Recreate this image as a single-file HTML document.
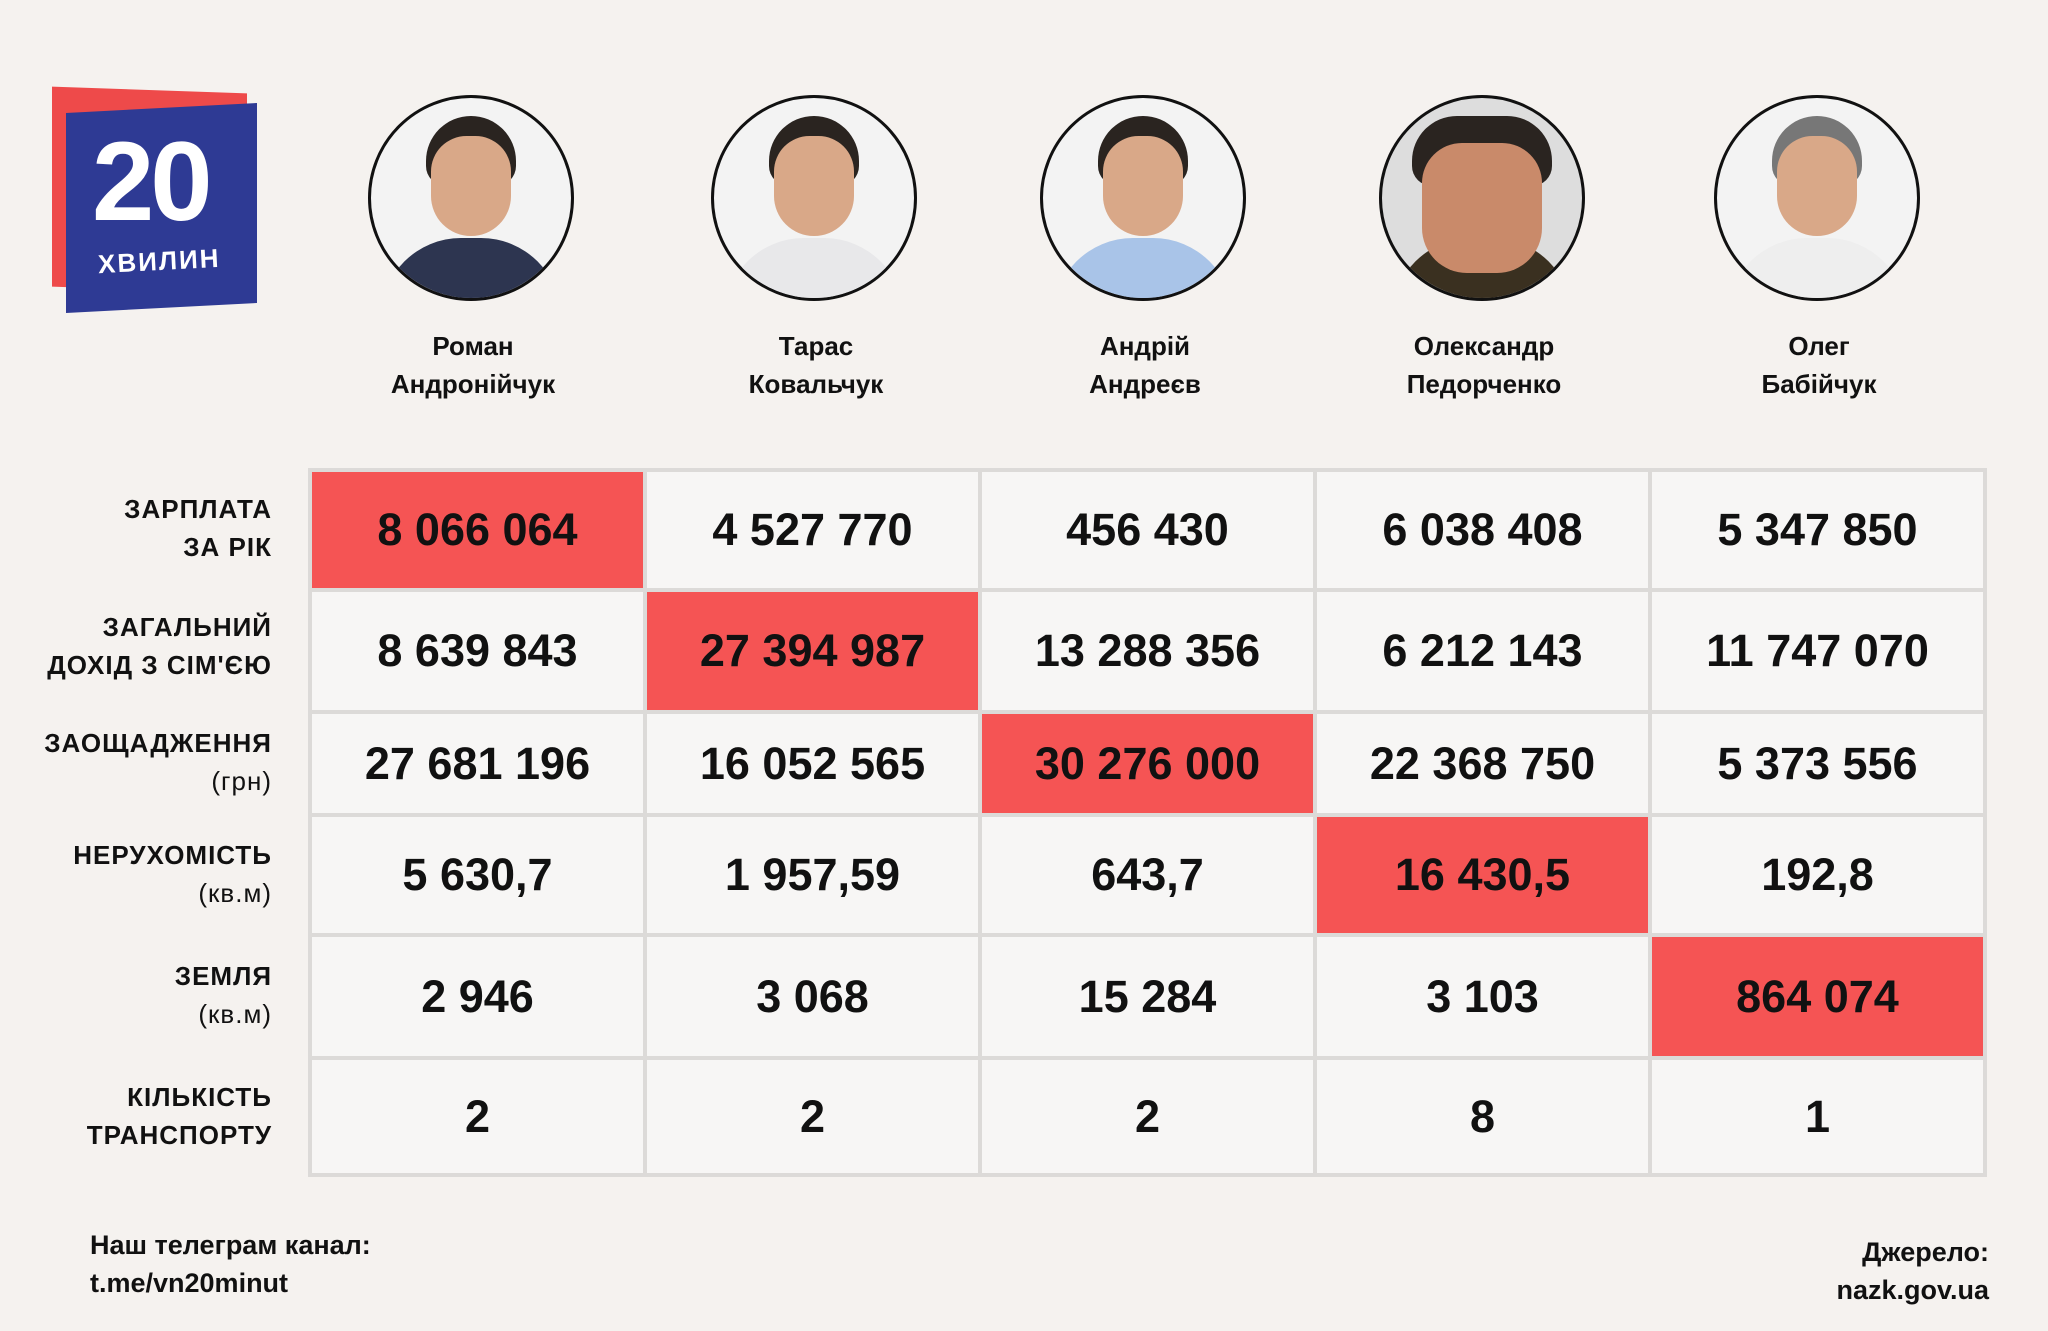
<!DOCTYPE html>
<html><head><meta charset="utf-8"><style>
body{margin:0;width:2048px;height:1331px;background:#f5f2ef;font-family:"Liberation Sans",sans-serif;position:relative;overflow:hidden;color:#111}
.a{position:absolute}
.c{position:absolute;width:206px;height:206px;border:3px solid #111;border-radius:50%;overflow:hidden;background:#f3f3f3;box-sizing:border-box}
.c .hair{position:absolute;left:55px;top:18px;width:90px;height:70px;border-radius:45px 45px 20px 20px;background:#2a2420}
.c .face{position:absolute;left:60px;top:38px;width:80px;height:100px;border-radius:40px 40px 45px 45px;background:#d9a888}
.c .body{position:absolute;left:10px;top:140px;width:180px;height:120px;border-radius:80px 80px 0 0;background:#c9d0dc}
.n{position:absolute;width:300px;text-align:center;font-weight:bold;font-size:26px;line-height:38px}
table{position:absolute;left:308px;top:468px;border-collapse:collapse}
td{width:331px;text-align:center;font-weight:bold;font-size:45px;border:4px solid #dcdad8;background:#f7f6f5;padding:0}
td.h{background:#f55454}
.l{position:absolute;right:1776px;text-align:right;font-weight:bold;font-size:26px;line-height:38px;letter-spacing:1px}
.l span{font-weight:normal}
</style></head><body>
<div class="a" style="left:52px;top:90px;width:195px;height:200px;background:#ee4a4a;transform:skewY(2deg)"></div>
<div class="a" style="left:66px;top:108px;width:191px;height:200px;background:#2e3a94;transform:skewY(-3deg)"></div>
<div class="a" style="left:92px;top:126px;font-weight:bold;font-size:112px;color:#fff;line-height:112px;letter-spacing:-4px">20</div>
<div class="a" style="left:98px;top:246px;font-weight:bold;font-size:26px;color:#fff;letter-spacing:2px;transform:rotate(-3deg)">ХВИЛИН</div>
<div class="c" style="left:368px;top:95px"><div class="body" style="background:#2d3550"></div><div class="hair"></div><div class="face"></div></div>
<div class="c" style="left:711px;top:95px"><div class="body" style="background:#e8e8ea"></div><div class="hair"></div><div class="face"></div></div>
<div class="c" style="left:1040px;top:95px"><div class="body" style="background:#a9c4e8"></div><div class="hair"></div><div class="face"></div></div>
<div class="c" style="left:1379px;top:95px;background:#ddd"><div class="body" style="background:#3a3020"></div><div class="hair" style="left:30px;width:140px"></div><div class="face" style="left:40px;width:120px;height:130px;top:45px;background:#c98a6a"></div></div>
<div class="c" style="left:1714px;top:95px"><div class="body" style="background:#eeeeee"></div><div class="hair" style="background:#777"></div><div class="face"></div></div>
<div class="n" style="left:323px;top:327px">Роман<br>Андронійчук</div>
<div class="n" style="left:666px;top:327px">Тарас<br>Ковальчук</div>
<div class="n" style="left:995px;top:327px">Андрій<br>Андреєв</div>
<div class="n" style="left:1334px;top:327px">Олександр<br>Педорченко</div>
<div class="n" style="left:1669px;top:327px">Олег<br>Бабійчук</div>
<div class="l" style="top:490px">ЗАРПЛАТА<br>ЗА РІК</div>
<div class="l" style="top:608px">ЗАГАЛЬНИЙ<br>ДОХІД З СІМ'ЄЮ</div>
<div class="l" style="top:724px">ЗАОЩАДЖЕННЯ<br><span>(грн)</span></div>
<div class="l" style="top:836px">НЕРУХОМІСТЬ<br><span>(кв.м)</span></div>
<div class="l" style="top:957px">ЗЕМЛЯ<br><span>(кв.м)</span></div>
<div class="l" style="top:1078px">КІЛЬКІСТЬ<br>ТРАНСПОРТУ</div>
<table>
<tr style="height:120px"><td class="h">8 066 064</td><td>4 527 770</td><td>456 430</td><td>6 038 408</td><td>5 347 850</td></tr>
<tr style="height:122px"><td>8 639 843</td><td class="h">27 394 987</td><td>13 288 356</td><td>6 212 143</td><td>11 747 070</td></tr>
<tr style="height:103px"><td>27 681 196</td><td>16 052 565</td><td class="h">30 276 000</td><td>22 368 750</td><td>5 373 556</td></tr>
<tr style="height:120px"><td>5 630,7</td><td>1 957,59</td><td>643,7</td><td class="h">16 430,5</td><td>192,8</td></tr>
<tr style="height:123px"><td>2 946</td><td>3 068</td><td>15 284</td><td>3 103</td><td class="h">864 074</td></tr>
<tr style="height:117px"><td>2</td><td>2</td><td>2</td><td>8</td><td>1</td></tr>
</table>
<div class="a" style="left:90px;top:1226px;font-weight:bold;font-size:27px;line-height:38px">Наш телеграм канал:<br>t.me/vn20minut</div>
<div class="a" style="right:59px;top:1233px;font-weight:bold;font-size:27px;line-height:38px;text-align:right">Джерело:<br>nazk.gov.ua</div>
</body></html>
